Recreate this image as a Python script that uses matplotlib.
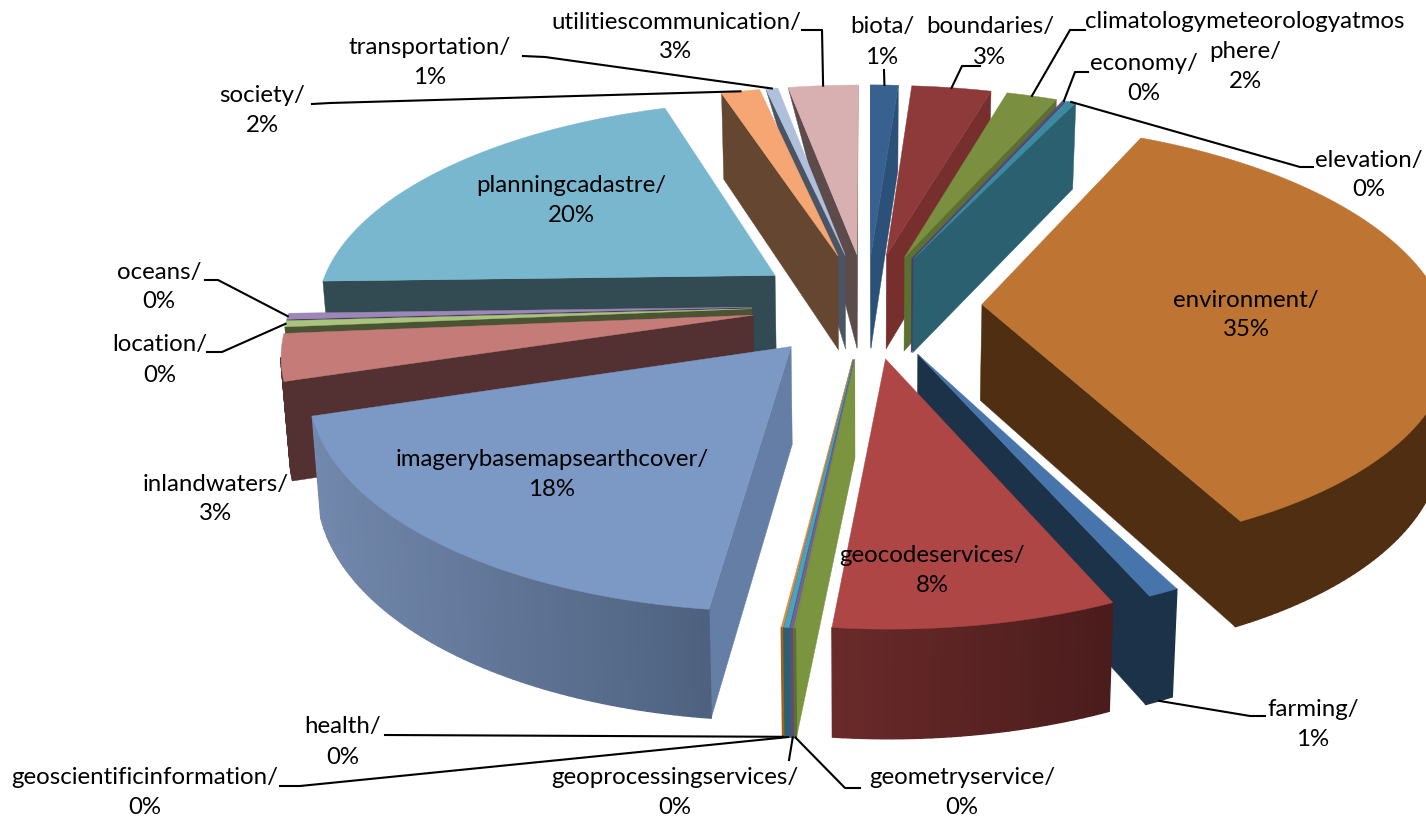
import numpy as np
import matplotlib
matplotlib.use('Agg')
import matplotlib.pyplot as plt
from matplotlib.patches import Polygon

plt.rcParams['font.family'] = ['Lato', 'DejaVu Sans']

# pie data, clockwise from 12 o'clock
categories = ['biota', 'boundaries', 'climatologymeteorologyatmos\nphere', 'economy', 'elevation',
              'environment', 'farming', 'geocodeservices', 'geometryservice', 'geoprocessingservices',
              'geoscientificinformation', 'health', 'imagerybasemapsearthcover', 'inlandwaters',
              'location', 'oceans', 'planningcadastre', 'society', 'transportation',
              'utilitiescommunication']
values = [1.15, 3.3, 2.1, 0.1, 0.4, 35.5, 0.9, 8.15, 0.05, 0.08, 0.15, 0.05, 18.27, 3.45, 0.45, 0.45,
          20.45, 1.6, 0.5, 2.9]
percent_labels = [1, 3, 2, 0, 0, 35, 1, 8, 0, 0, 0, 0, 18, 3, 0, 0, 20, 2, 1, 3]

top_colors = ['#38618F', '#8E3A3A', '#7A8F3F', '#5F4A80', '#3C8AA0', '#BE7432', '#4674AB', '#AE4645',
              '#7A9440', '#7A5E9E', '#46A4BE', '#E08A3C', '#7C98C4', '#C57B78', '#A9C47C', '#9C87B8',
              '#78B7CE', '#F5A672', '#AFC0DC', '#D9B0B2']
face_colors = ['#2C5178', '#772F2E', '#5C7030', '#4A3A64', '#2A6070', '#4F2E12', '#1C3249', '#6B2A2A',
               '#7A9440', '#5F4A80', '#2A6070', '#A06020', '#647EA5', '#533032', '#4A5435', '#4A3F5A',
               '#324A52', '#654630', '#4A5465', '#5D4A4A']
wall_left = ['#2C5178', '#772F2E', '#5C7030', '#4A3A64', '#2A6070', '#4F2E12', '#1C3249', '#6B2A2A',
             '#5C7030', '#5F4A80', '#2A6070', '#A06020', '#7288AC', '#533032', '#4A5435', '#4A3F5A',
             '#324A52', '#654630', '#4A5465', '#5D4A4A']
wall_right = ['#2C5178', '#772F2E', '#5C7030', '#4A3A64', '#2A6070', '#4F2E12', '#1C3249', '#4B1C1C',
              '#5C7030', '#5F4A80', '#2A6070', '#A06020', '#4E6280', '#533032', '#4A5435', '#4A3F5A',
              '#324A52', '#654630', '#4A5465', '#5D4A4A']

# projection of the pie plane to image pixels
CX, CY = 867, 305
SCALE_X, SCALE_Y = 460, 210
PERSP = 0.154
HEIGHT = 96
PERSP_Z = 0.10
EXPLODE = 0.25
LINE_H = 30

# label centre, then leader line points (the slice end is added from the projection)
label_pos = {
    'biota': (882, 42), 'boundaries': (990, 42), 'climatologymeteorologyatmos\nphere': (1245, 52),
    'economy': (1144, 78), 'elevation': (1369, 175), 'environment': (1246, 315), 'farming': (1313, 725),
    'geocodeservices': (932, 571), 'geometryservice': (962, 793), 'geoprocessingservices': (675, 793),
    'geoscientificinformation': (145, 793), 'health': (343, 742), 'imagerybasemapsearthcover': (552, 475),
    'inlandwaters': (216, 499), 'location': (160, 360), 'oceans': (159, 287),
    'planningcadastre': (571, 200), 'society': (262, 111), 'transportation': (430, 63),
    'utilitiescommunication': (676, 37),
}
leaders = {
    'biota': [(884, 70)], 'boundaries': [(980, 66), (962, 66)],
    'climatologymeteorologyatmos\nphere': [(1085, 30), (1070, 30)],
    'economy': [(1088, 72), (1075, 72)], 'elevation': [(1313, 167), (1300, 167)],
    'farming': [(1265, 716), (1250, 716)], 'geometryservice': [(860, 788), (845, 788)],
    'geoprocessingservices': [(789, 760)], 'geoscientificinformation': [(280, 786), (300, 786)],
    'health': [(385, 735)], 'location': [(207, 352), (222, 352)], 'oceans': [(205, 280), (218, 280)],
    'society': [(312, 104), (330, 103)], 'transportation': [(523, 56), (545, 57)],
    'utilitiescommunication': [(802, 30), (822, 30)],
}
# these leaders end on the lower rim of the slice
lower_rim = ['farming', 'geometryservice', 'geoprocessingservices', 'geoscientificinformation', 'health']
# side face narrows to nothing at the rim on these two
tapered = ['transportation', 'utilitiescommunication']
draw_order = ['utilitiescommunication', 'transportation', 'society', 'biota', 'boundaries',
              'climatologymeteorologyatmos\nphere', 'economy', 'elevation', 'planningcadastre', 'oceans',
              'location', 'inlandwaters', 'imagerybasemapsearthcover', 'environment', 'farming',
              'geocodeservices', 'health', 'geoscientificinformation', 'geoprocessingservices',
              'geometryservice']


def project(x, y, z=0.0):
    w = 1 + PERSP * y
    sx = CX + SCALE_X * x / w
    sy = CY - SCALE_Y * y / w
    if z:
        sx = CX + (sx - CX) * 0.985
        sy = sy + HEIGHT / (1 + PERSP_Z * y)
    return sx, sy


def signed_area(pts):
    p = np.array(pts)
    return 0.5 * np.sum(p[:, 0] * np.roll(p[:, 1], -1) - np.roll(p[:, 0], -1) * p[:, 1])


def mix(c1, c2, t):
    a, b = np.array(matplotlib.colors.to_rgb(c1)), np.array(matplotlib.colors.to_rgb(c2))
    return tuple(a + (b - a) * t)


def draw_slice(ax, i, start, end):
    mid = (start + end) / 2
    ox, oy = EXPLODE * np.sin(mid), EXPLODE * np.cos(mid)
    angles = np.linspace(start, end, max(3, int((end - start) * 60)))
    xs, ys = ox + np.sin(angles), oy + np.cos(angles)
    top = [project(ox, oy)] + [project(x, y) for x, y in zip(xs, ys)]
    bottom = [project(ox, oy, 1)] + [project(x, y, 1) for x, y in zip(xs, ys)]

    # radial side faces, only the ones facing the viewer
    for a, b in ((0, 1), (-1, 0)):
        quad = [top[a], top[b], bottom[b], bottom[a]]
        if signed_area(quad) < 0:
            if categories[i] in tapered:
                quad = [top[a], top[b], bottom[0]] if a == 0 else [top[a], top[b], bottom[b]]
            ax.add_patch(Polygon(quad, closed=True, fc=face_colors[i], ec=face_colors[i], lw=0.3))

    # outer wall, split up for the shading
    sx = [p[0] for p in top[1:]]
    lo, hi = min(sx), max(sx)
    for j in range(1, len(top) - 1):
        if top[j + 1][0] < top[j][0]:
            t = (top[j][0] - lo) / max(hi - lo, 1)
            col = mix(wall_left[i], wall_right[i], t)
            ax.add_patch(Polygon([top[j], top[j + 1], bottom[j + 1], bottom[j]], closed=True,
                                 fc=col, ec=col, lw=1.0))
    ax.add_patch(Polygon(top, closed=True, fc=top_colors[i], ec=top_colors[i], lw=0.3))
    rim = (ox + np.sin(mid), oy + np.cos(mid))
    return project(*rim), project(rim[0], rim[1], 1)


fig = plt.figure(figsize=(14.26, 8.19), dpi=100)
ax = fig.add_axes([0, 0, 1, 1])
ax.set_xlim(0, 1426)
ax.set_ylim(819, 0)
ax.axis('off')

edges = np.cumsum([0] + values) / sum(values) * 2 * np.pi
rim_top, rim_bottom = {}, {}
for name in draw_order:
    i = categories.index(name)
    rim_top[name], rim_bottom[name] = draw_slice(ax, i, edges[i], edges[i + 1])

for name, pts in leaders.items():
    end = rim_bottom[name] if name in lower_rim else rim_top[name]
    line = pts + [end]
    ax.plot([p[0] for p in line], [p[1] for p in line], color='black', lw=1.5, zorder=5, clip_on=False)

for i, name in enumerate(categories):
    x, y = label_pos[name]
    lines = f'{name}/\n{percent_labels[i]}%'.split('\n')
    for k, txt in enumerate(lines):
        ax.text(x, y + (k - (len(lines) - 1) / 2) * LINE_H, txt, ha='center', va='center', fontsize=17.3,
                color='black', zorder=6)

fig.savefig('out.png', dpi=100)
